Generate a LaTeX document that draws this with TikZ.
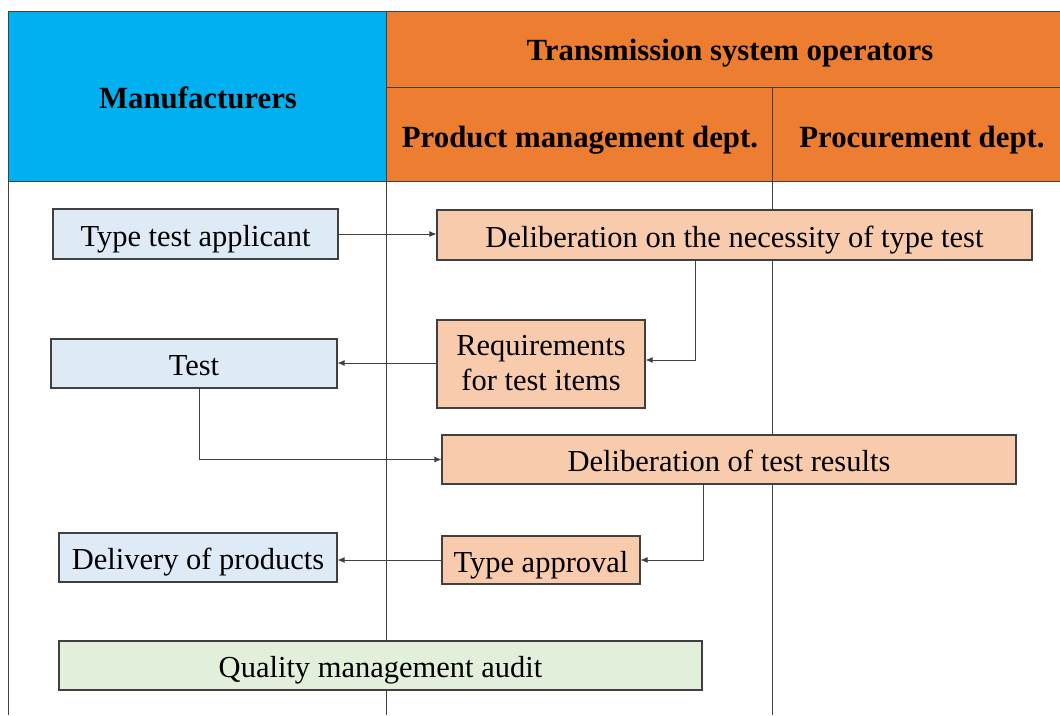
\documentclass[tikz,border=0pt]{standalone}
\usepackage{fontspec}
\setmainfont{Liberation Serif}
\usetikzlibrary{arrows.meta}
\definecolor{hblue}{HTML}{00B0F0}
\definecolor{horange}{HTML}{ED7D31}
\definecolor{bblue}{HTML}{DEEBF7}
\definecolor{bpeach}{HTML}{F8CBAD}
\definecolor{bgreen}{HTML}{E2EFDA}
\definecolor{edge}{HTML}{404040}
\begin{document}
\begin{tikzpicture}[x=1pt,y=-1pt,
  grid/.style={draw=edge, line width=1pt},
  hdr/.style={font=\fontsize{30.8}{34}\selectfont\bfseries, inner sep=0, anchor=base},
  box/.style={draw=edge, line width=1.2pt, font=\fontsize{30.5}{35}\selectfont, inner sep=0, align=center, text height=24pt, text depth=0pt},
  mbox/.style={box, fill=bblue},
  pbox/.style={box, fill=bpeach},
  gbox/.style={box, fill=bgreen},
  arr/.style={draw=edge, line width=0.8pt, -{Latex[length=7pt,width=6pt]}}]
\useasboundingbox (0,0) rectangle (1060,715);
% header fills
\fill[hblue] (8,11) rectangle (386,181);
\fill[horange] (386,11) rectangle (1060,181);
% grid lines
\draw[grid] (8,11) -- (1060,11);
\draw[grid] (386,87) -- (1060,87);
\draw[grid] (8,181) -- (1060,181);
\draw[grid] (8,11) -- (8,715);
\draw[grid] (386,11) -- (386,715);
\draw[grid] (772,87) -- (772,715);
% header texts
\node[hdr] (hman) at (198,108) {Manufacturers};
\node[hdr] (htso) at (730,60) {Transmission system operators};
\node[hdr] (hpm) at (580,147) {Product management dept.};
\node[hdr] (hpr) at (922,147) {Procurement dept.};
% boxes
\node[mbox, minimum width=285, minimum height=50] (app) at (195.5,234) {Type test applicant};
\node[mbox, minimum width=286, minimum height=49] (test) at (194,363.5) {Test};
\node[mbox, minimum width=278, minimum height=49] (deliv) at (198,557.5) {Delivery of products};
\node[gbox, minimum width=643, minimum height=49] (qma) at (380.5,665.5) {Quality management audit};
\node[pbox, minimum width=595, minimum height=50] (delib1) at (734.5,235) {Deliberation on the necessity of type test};
\node[pbox, minimum width=208, minimum height=88, text height=52pt, text depth=0pt] (req) at (541,364) {Requirements\\for test items};
\node[pbox, minimum width=574, minimum height=49] (delib2) at (729,459.5) {Deliberation of test results};
\node[pbox, minimum width=198, minimum height=48] (appr) at (541,560) {Type approval};
% connectors
\draw[arr] (app.east) -- (app.east -| delib1.west);
\draw[arr] ([xshift=-39.5]delib1.south) |- ([yshift=4]req.east);
\draw[arr] ([yshift=1]req.west) -- ([yshift=1]req.west -| test.east);
\draw[arr] ([xshift=5]test.south) |- (delib2.west);
\draw[arr] ([xshift=-26]delib2.south) |- (appr.east);
\draw[arr] (appr.west) -- (appr.west -| deliv.east);
\end{tikzpicture}
\end{document}
